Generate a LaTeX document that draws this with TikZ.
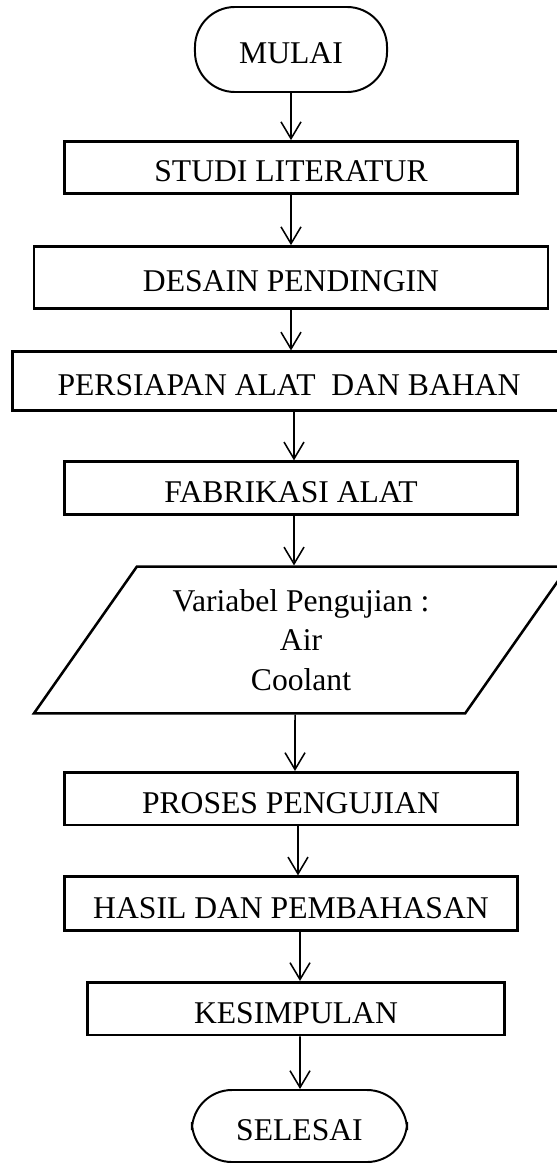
\documentclass[tikz,border=0pt]{standalone}
\usepackage{fontspec}
\setmainfont{Liberation Serif}
\usetikzlibrary{arrows.meta,positioning,shapes.geometric,calc}
\tikzset{
  procbox/.style={draw=black,line width=1.9pt,inner sep=0pt,
                  text height=20.6pt,text depth=0pt,
                  font=\fontsize{22.5pt}{28pt}\selectfont},
  termbox/.style={draw=black,line width=1.4pt,rounded corners=1.0cm,
                  minimum width=4.8cm,minimum height=2.125cm,inner sep=0pt,
                  text height=20.6pt,text depth=0pt,
                  font=\fontsize{22.5pt}{28pt}\selectfont},
  iobox/.style={draw=black,line width=1.8pt,trapezium,
                trapezium left angle=51.5,trapezium right angle=128.5,
                trapezium stretches=true,inner sep=0pt,align=center,
                font=\fontsize{22.5pt}{28pt}\selectfont},
  flowarr/.style={-{Straight Barb[length=0.42cm,width=0.5cm]},line width=1.1pt}
}
\begin{document}
\begin{tikzpicture}[x=0.025cm,y=-0.025cm]
  \useasboundingbox (0,0) rectangle (557,1163);
  \clip (0,0) rectangle (557,1163);
  % start
  \node[termbox] (mulai) at (291,49.5) {MULAI};
  % preparation steps
  \node[procbox,minimum width=11.325cm,minimum height=1.3cm] (studi) at (291,167.5) {STUDI LITERATUR};
  \node[procbox,minimum width=12.85cm,minimum height=1.55cm] (desain) at (291,277.5) {DESAIN PENDINGIN};
  \node[procbox,minimum width=13.825cm,minimum height=1.46cm] (persiapan) at (289,381) {PERSIAPAN ALAT\ \ DAN BAHAN};
  \node[procbox,minimum width=11.325cm,minimum height=1.315cm] (fabrikasi) at (291,488) {FABRIKASI ALAT};
  % test variables
  \node[iobox,minimum width=13.4cm,minimum height=3.665cm] (variabel) at (301,640)
    {Variabel Pengujian :\\ Air\\ Coolant};
  % testing and results
  \node[procbox,minimum width=11.325cm,minimum height=1.32cm] (proses) at (291,798.7) {PROSES PENGUJIAN};
  \node[procbox,minimum width=11.325cm,minimum height=1.35cm] (hasil) at (291,903.7) {HASIL DAN PEMBAHASAN};
  \node[procbox,minimum width=10.42cm,minimum height=1.32cm] (kesimpulan) at (296,1008.7) {KESIMPULAN};
  % end
  \node[termbox,minimum width=5.375cm,minimum height=1.8cm] (selesai) at (299.5,1126) {SELESAI};
  % connectors
  \draw[flowarr] (mulai.south) -- (studi.north);
  \draw[flowarr] (studi.south) -- (desain.north);
  \draw[flowarr] (desain.south) -- ($(persiapan.north)+(2,0)$);
  \draw[flowarr] ($(persiapan.south)+(5,0)$) -- ($(fabrikasi.north)+(3,0)$);
  \draw[flowarr] ($(fabrikasi.south)+(3,0)$) -- ($(variabel.north)+(-7,0)$);
  \draw[flowarr] ($(variabel.south)+(-6,0)$) -- ($(proses.north)+(4,0)$);
  \draw[flowarr] ($(proses.south)+(7,0)$) -- ($(hasil.north)+(7,0)$);
  \draw[flowarr] ($(hasil.south)+(9,0)$) -- ($(kesimpulan.north)+(4,0)$);
  \draw[flowarr] ($(kesimpulan.south)+(4,0)$) -- ($(selesai.north)+(0.5,0)$);
\end{tikzpicture}
\end{document}
